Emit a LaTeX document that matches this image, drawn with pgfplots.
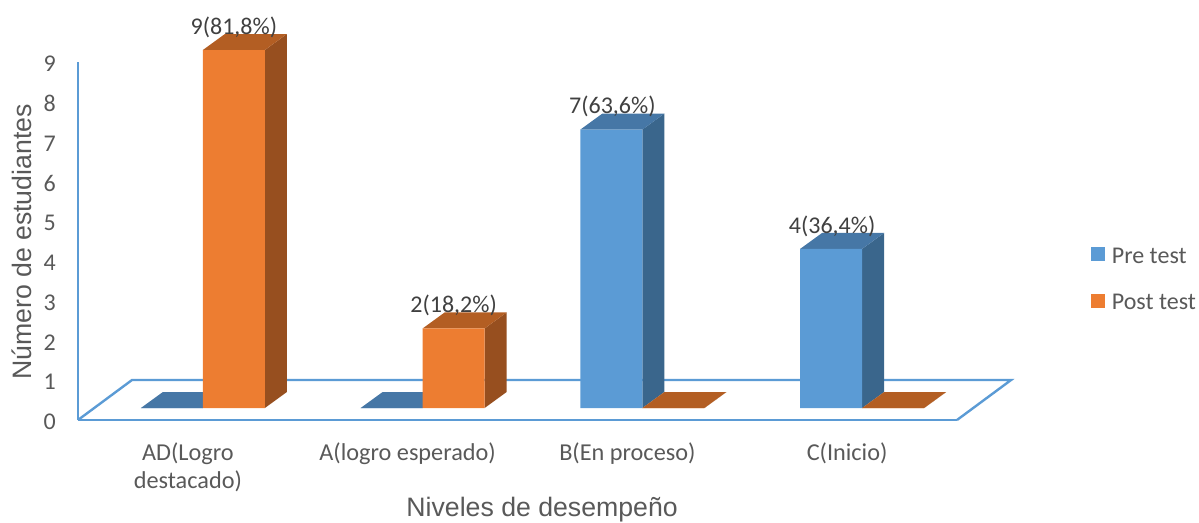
\documentclass[border=0pt]{standalone}
\usepackage{pgfplots}
\pgfplotsset{compat=1.18}
\usepackage{fontspec}
\setmainfont{Carlito}
\newfontfamily\arialfont{Liberation Sans}
\definecolor{blueF}{HTML}{5B9BD5}
\definecolor{blueS}{HTML}{3A668C}
\definecolor{blueT}{HTML}{4677A6}
\definecolor{orangeF}{HTML}{ED7D31}
\definecolor{orangeS}{HTML}{974F1F}
\definecolor{orangeT}{HTML}{B35E23}
\definecolor{frameblue}{HTML}{5B9BD5}
\definecolor{txt}{HTML}{595959}
% side and top faces of one bar: right edge, value, side colour, top colour
\newcommand{\faces}[4]{%
  \pgfmathsetmacro\xl{#1-0.2821}%
  \pgfmathsetmacro\xr{#1+0.1001}%
  \pgfmathsetmacro\xm{#1-0.182}%
  \pgfmathsetmacro\yt{#2+0.4022}%
  \addplot[fill=#3,draw=none,forget plot] coordinates {(#1,0) (\xr,0.4022) (\xr,\yt) (#1,#2)} -- cycle;
  \addplot[fill=#4,draw=none,forget plot] coordinates {(\xl,#2) (#1,#2) (\xr,\yt) (\xm,\yt)} -- cycle;
}
\begin{document}
\begin{tikzpicture}
\useasboundingbox (0,0) rectangle (899.25pt,391.5pt);
\begin{axis}[
    at={(58.5pt,76.5pt)}, anchor=south west,
    scale only axis, width=659.25pt, height=268.5pt,
    xmin=-0.5, xmax=3.5, ymin=0, ymax=9,
    clip=false,
    axis lines=left,
    axis line style={draw=frameblue,line width=1.8pt,-},
    major tick length=0pt,
    xtick={0,1,2,3},
    xticklabels={{AD(Logro\\destacado)},{A(logro esperado)},{B(En proceso)},{C(Inicio)}},
    ytick={0,...,9},
    /pgf/number format/assume math mode=true,
    tick label style={text=txt},
    xticklabel style={align=center,font=\fontsize{18.2pt}{21.5pt}\selectfont,inner sep=0pt,yshift=-16.5pt},
    yticklabel style={font=\fontsize{18pt}{20pt}\selectfont,inner sep=0pt,xshift=-16.5pt,yshift=-1.5pt},
    every axis x label/.style={at={(rel axis cs:0.528,-0.2514)},anchor=center},
    every axis y label/.style={at={(rel axis cs:-0.0637,0.497)},anchor=center,rotate=90},
    xlabel={\arialfont\fontsize{20pt}{24pt}\selectfont\color{txt}Niveles de desempeño},
    ylabel={\arialfont\fontsize{20pt}{24pt}\selectfont\color{txt}Número de estudiantes},
    every axis plot/.append style={yshift=9pt},
    legend style={at={(rel axis cs:1.1524,0.3925)},anchor=west,draw=none,fill=none,
      inner sep=0pt,font=\fontsize{18pt}{20pt}\selectfont\color{txt},
      row sep=17.5pt,
      /tikz/every odd column/.append style={column sep=3pt},
      /tikz/every even column/.append style={column sep=0pt}},
    legend image code/.code={\fill[#1] (0pt,-12.75pt) rectangle (10.5pt,-2.25pt);},
    legend cell align=left,
    nodes near coords style={font=\fontsize{18pt}{20pt}\selectfont,text=black!75,anchor=south,inner sep=0pt,yshift=9pt},
  ]
\draw[draw=frameblue,line width=1.8pt,line join=miter]
  (axis cs:-0.5,0) -- (axis cs:-0.2543,1.0055) -- (axis cs:3.746,1.0055) -- (axis cs:3.5,0);

\faces{0.0683}{0}{blueS}{blueT}
\faces{1.0683}{0}{blueS}{blueT}
\faces{2.0683}{7}{blueS}{blueT}
\faces{3.0683}{4}{blueS}{blueT}
\addplot[ybar,bar width=46.5pt,bar shift=-12pt,fill=blueF,draw=none,
    point meta=explicit symbolic,nodes near coords,
    every node near coord/.append style={xshift=-11.25pt}]
  coordinates {(0,0)[] (1,0)[] (2,7)[7(63,6\%)] (3,4)[4(36,4\%)]};
\addlegendentry{Pre test}

\faces{0.3504}{9}{orangeS}{orangeT}
\faces{1.3504}{2}{orangeS}{orangeT}
\faces{2.3504}{0}{orangeS}{orangeT}
\faces{3.3504}{0}{orangeS}{orangeT}
\addplot[ybar,bar width=46.5pt,bar shift=34.5pt,fill=orangeF,draw=none,
    point meta=explicit symbolic,nodes near coords,
    every node near coord/.append style={xshift=34.5pt}]
  coordinates {(0,9)[9(81,8\%)] (1,2)[2(18,2\%)] (2,0)[] (3,0)[]};
\addlegendentry{Post test}
\end{axis}
\end{tikzpicture}
\end{document}
